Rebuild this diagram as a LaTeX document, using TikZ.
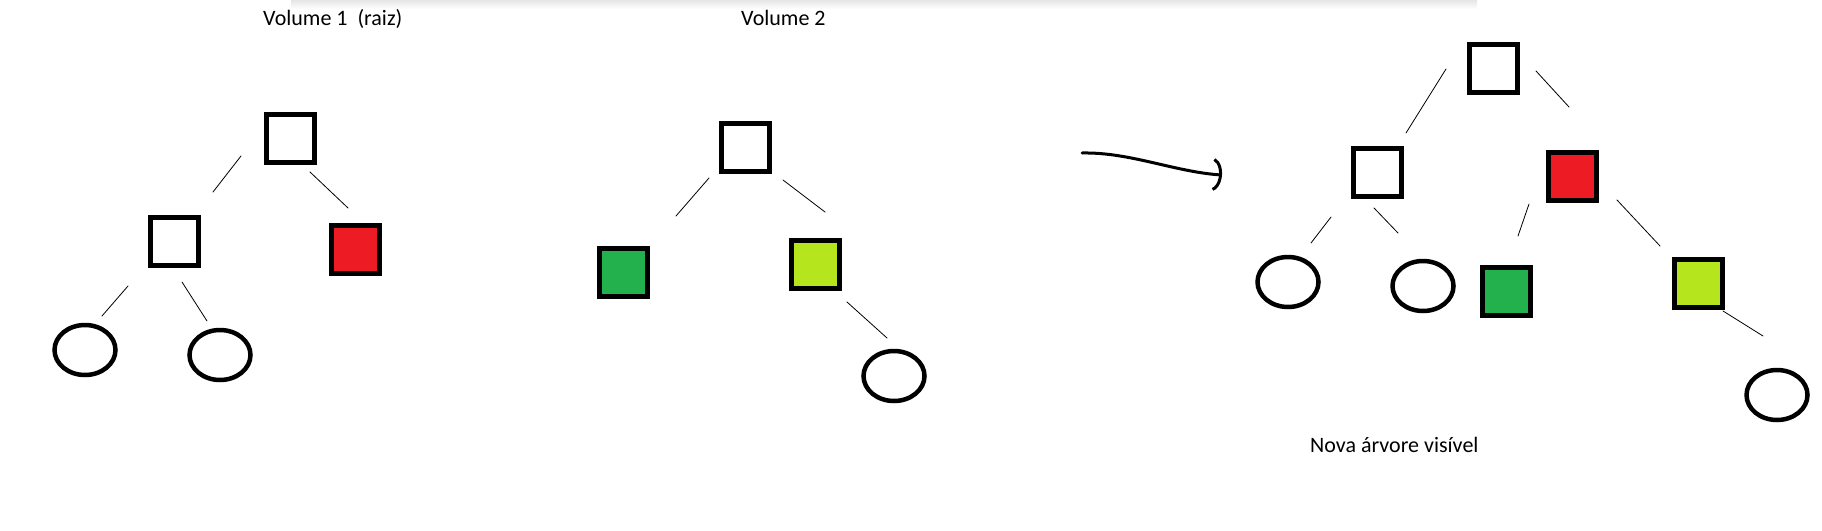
\documentclass[tikz,border=0pt]{standalone}
\usepackage{fontspec}
\setmainfont{Carlito}
\usepackage{xcolor}
\definecolor{PaintRed}{HTML}{ED1C24}
\definecolor{PaintGreen}{HTML}{22B14C}
\definecolor{PaintLime}{HTML}{B5E61D}
\usetikzlibrary{arrows.meta,positioning,calc,shapes.geometric}

\begin{document}
\begin{tikzpicture}[x=1pt,y=-1pt,
box/.style={draw=black,line width=5pt,fill=white,minimum size=48pt,inner sep=0pt},
leaf/.style={draw=black,line width=4.5pt,ellipse,minimum width=61pt,minimum height=50pt,inner sep=0pt},
link/.style={line width=0.8pt,line cap=round},
title/.style={anchor=base west,inner sep=0pt,font=\fontsize{22pt}{26pt}\selectfont}]
\useasboundingbox (0,0) rectangle (1822,530);
\shade[top color=black!10,bottom color=white] (291,0) rectangle (1477,9);
% Volume 1
\node[title] (vol1) at (263,25) {Volume 1\ \ (raiz)};
\node[box] (root1) at (290,138) {};
\node[box] (left1) at (174,241) {};
\node[box,fill=PaintRed] (red1) at (355,249) {};
\node[leaf] (leafA1) at (85,350) {};
\node[leaf] (leafB1) at (220,355) {};
\draw[link] ($(root1)+(-49,18)$) -- ($(left1)+(39,-49)$);
\draw[link] ($(root1)+(20,34)$) -- ($(red1)+(-7,-41)$);
\draw[link] ($(left1)+(-46,45)$) -- ($(leafA1)+(17,-34)$);
\draw[link] ($(left1)+(8,41)$) -- ($(leafB1)+(-13,-34)$);
% Volume 2
\node[title] (vol2) at (741,25) {Volume 2};
\node[box] (root2) at (745,147) {};
\node[box,fill=PaintGreen] (green2) at (623,272) {};
\node[box,fill=PaintLime] (lime2) at (815,264) {};
\node[leaf] (leaf2) at (894,376) {};
\draw[link] ($(root2)+(-36,31)$) -- ($(green2)+(53,-56)$);
\draw[link] ($(root2)+(38,33)$) -- ($(lime2)+(10,-52)$);
\draw[link] ($(lime2)+(32,38)$) -- ($(leaf2)+(-7,-38)$);
% arrow
\coordinate (from) at (1082,153);
\coordinate (to) at (1222,175);
\draw[line width=3pt,line cap=round,-{Arc Barb[arc=150,length=11pt,width=34pt]}] (from) .. controls (1130,152) and (1175,172) .. (to);
% nova arvore
\node[box] (root3) at (1493,68) {};
\node[box] (left3) at (1377,172) {};
\node[box,fill=PaintRed] (red3) at (1572,176) {};
\node[leaf] (leafA3) at (1288,282) {};
\node[leaf] (leafB3) at (1423,286) {};
\node[box,fill=PaintGreen] (green3) at (1506,291) {};
\node[box,fill=PaintLime] (lime3) at (1698,283) {};
\node[leaf] (leafC3) at (1777,395) {};
\node[title] (vol3) at (1310,452) {Nova árvore visível};
\draw[link] ($(root3)+(-47,1)$) -- ($(left3)+(29,-39)$);
\draw[link] ($(root3)+(43,3)$) -- ($(red3)+(-3,-69)$);
\draw[link] ($(left3)+(-46,45)$) -- ($(leafA3)+(23,-39)$);
\draw[link] ($(left3)+(-3,36)$) -- ($(leafB3)+(-25,-53)$);
\draw[link] ($(red3)+(-43,28)$) -- ($(green3)+(12,-55)$);
\draw[link] ($(red3)+(45,24)$) -- ($(lime3)+(-38,-37)$);
\draw[link] ($(lime3)+(25,28)$) -- ($(leafC3)+(-14,-59)$);
\end{tikzpicture}
\end{document}
